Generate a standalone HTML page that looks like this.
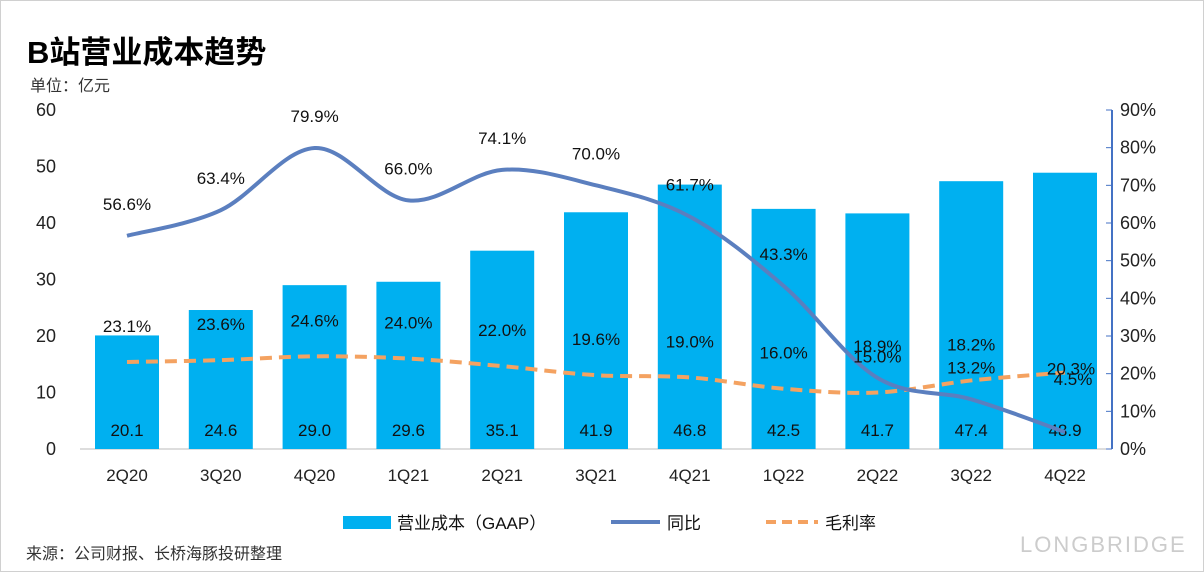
<!DOCTYPE html>
<html><head><meta charset="utf-8"><style>
body{margin:0;background:#fff;}
svg{display:block;font-family:"Liberation Sans","Noto Sans CJK SC",sans-serif;}
</style></head><body>
<svg id="c" width="1204" height="572">
<rect x="0.5" y="0.5" width="1203" height="571" fill="#fff" stroke="#d0d0d0"/>
<text x="27" y="63" font-size="31" font-weight="bold" fill="#000">B站营业成本趋势</text>
<text x="30" y="91" font-size="16" fill="#333">单位：亿元</text>
<text x="26" y="559" font-size="16" fill="#333">来源：公司财报、长桥海豚投研整理</text>
<text x="1020" y="552" font-size="22" fill="#ccc" letter-spacing="2">LONGBRIDGE</text>
<g id="g"></g>
</svg>
<script>
const categories=["2Q20","3Q20","4Q20","1Q21","2Q21","3Q21","4Q21","1Q22","2Q22","3Q22","4Q22"];
const costValues=[20.1,24.6,29.0,29.6,35.1,41.9,46.8,42.5,41.7,47.4,48.9];
const yoyValues=[56.6,63.4,79.9,66.0,74.1,70.0,61.7,43.3,18.9,13.2,4.5];
const marginValues=[23.1,23.6,24.6,24.0,22.0,19.6,19.0,16.0,15.0,18.2,20.3];
const leftTicks=[0,10,20,30,40,50,60];
const rightTicks=[0,10,20,30,40,50,60,70,80,90];
const yoyLabels=["56.6%","63.4%","79.9%","66.0%","74.1%","70.0%","61.7%","43.3%","18.9%","13.2%","4.5%"];
const marginLabels=["23.1%","23.6%","24.6%","24.0%","22.0%","19.6%","19.0%","16.0%","15.0%","18.2%","20.3%"];

const NS="http://www.w3.org/2000/svg";
const g=document.getElementById('g');
const X0=127,STEP=93.8,Y0=449,YT=110;
const x=i=>X0+i*STEP;
const yL=v=>Y0-(v/60)*(Y0-YT);
const yR=v=>Y0-(v/90)*(Y0-YT);
function el(t,a,txt){const e=document.createElementNS(NS,t);for(const k in a)e.setAttribute(k,a[k]);if(txt!==undefined)e.textContent=txt;g.appendChild(e);return e;}

let e=el('line',{x1:80,y1:Y0,x2:1112,y2:Y0,stroke:'#bbb'});

e=el('line',{x1:1112,y1:YT,x2:1112,y2:Y0,stroke:'#4472c4','stroke-width':2});

leftTicks.forEach(v=>{const t=el('text',{x:56,y:yL(v)+6,'font-size':18,'text-anchor':'end',fill:'#222'},v);
});
rightTicks.forEach(v=>{const t=el('text',{x:1120,y:yR(v)+6,'font-size':18,fill:'#222'},v+'%');

const l=el('line',{x1:1106,y1:yR(v),x2:1112,y2:yR(v),stroke:'#4472c4'});
});

categories.forEach((c,i)=>{
 const b=el('rect',{x:x(i)-32,y:yL(costValues[i]),width:64,height:Y0-yL(costValues[i]),fill:'#00b0f0'});
 
 const v=el('text',{x:x(i),y:436,'font-size':17,'text-anchor':'middle',fill:'#111'},costValues[i].toFixed(1));
 
 const t=el('text',{x:x(i),y:481,'font-size':17,'text-anchor':'middle',fill:'#222'},c);
 
});

function smooth(pts){let d='M'+pts[0][0]+','+pts[0][1];
 for(let i=0;i<pts.length-1;i++){const p0=pts[i-1]||pts[i],p1=pts[i],p2=pts[i+1],p3=pts[i+2]||p2;
 const c1=[p1[0]+(p2[0]-p0[0])/6,p1[1]+(p2[1]-p0[1])/6],c2=[p2[0]-(p3[0]-p1[0])/6,p2[1]-(p3[1]-p1[1])/6];
 d+=' C'+c1+' '+c2+' '+p2;}return d;}

e=el('path',{d:smooth(marginValues.map((v,i)=>[x(i),yR(v)])),fill:'none',stroke:'#f4a261','stroke-width':4,'stroke-dasharray':'12,7'});

e=el('path',{d:smooth(yoyValues.map((v,i)=>[x(i),yR(v)])),fill:'none',stroke:'#5b7fbf','stroke-width':4});


const last=categories.length-1;
yoyLabels.forEach((s,i)=>{const off=i===last?-47:-26;
const t=el('text',{x:x(i)+(i===last?8:0),y:yR(yoyValues[i])+off,'font-size':17,'text-anchor':'middle',fill:'#111'},s);
});
marginLabels.forEach((s,i)=>{const off=i===last?2:-30;
const t=el('text',{x:x(i)+(i===last?6:0),y:yR(marginValues[i])+off,'font-size':17,'text-anchor':'middle',fill:'#111'},s);
});

e=el('rect',{x:343,y:516,width:48,height:13,fill:'#00b0f0'});
e=el('text',{x:397,y:529,'font-size':17,fill:'#111'},'营业成本（GAAP）');
e=el('line',{x1:611,y1:522,x2:660,y2:522,stroke:'#5b7fbf','stroke-width':4});
e=el('text',{x:667,y:529,'font-size':17,fill:'#111'},'同比');
e=el('line',{x1:766,y1:522,x2:818,y2:522,stroke:'#f4a261','stroke-width':4,'stroke-dasharray':'10,6'});
e=el('text',{x:825,y:529,'font-size':17,fill:'#111'},'毛利率');
</script>
</body></html>
